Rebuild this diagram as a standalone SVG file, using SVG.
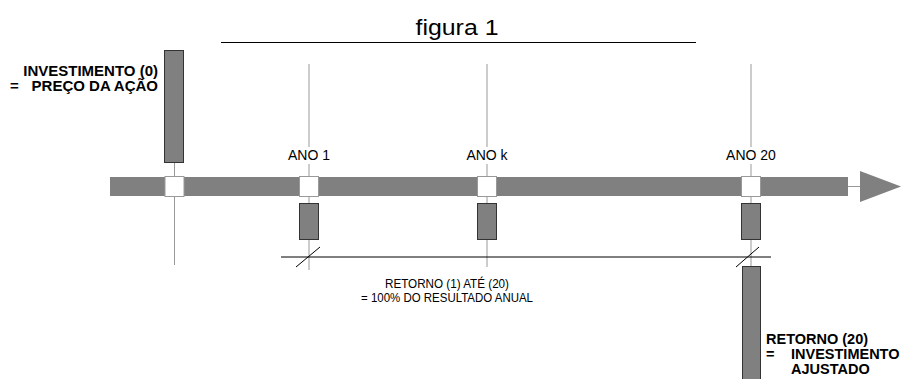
<svg xmlns="http://www.w3.org/2000/svg" width="906" height="379" viewBox="0 0 906 379">
<style>
.t{font-family:"Liberation Sans",Arial,sans-serif;fill:#000}
.b{font-weight:bold}
.bar{fill:#808080;stroke:#333;stroke-width:1}
.sq{fill:#fff;stroke:#999;stroke-width:1}
.vl{stroke:#999;stroke-width:1;fill:none}
.bl{stroke:#000;stroke-width:1;fill:none}
</style>
<rect width="906" height="379" fill="#fff"/>
<g id="title">
<text class="t" x="457" y="35" font-size="22" text-anchor="middle" textLength="83" lengthAdjust="spacingAndGlyphs">figura 1</text>
<line class="bl" x1="221" y1="42.5" x2="696" y2="42.5"/>
</g>
<g id="axis">
<rect x="110" y="177" width="738" height="19" fill="#808080"/>
<line class="vl" x1="848" y1="186.5" x2="860" y2="186.5"/>
<polygon points="860,171 901,186.5 860,202" fill="#808080"/>
</g>
<g id="connectors">
<line class="vl" x1="174.5" y1="162" x2="174.5" y2="265"/>
<line class="vl" x1="309" y1="64" x2="309" y2="147"/>
<line class="vl" x1="309" y1="164" x2="309" y2="270"/>
<line class="vl" x1="487" y1="64" x2="487" y2="147"/>
<line class="vl" x1="487" y1="164" x2="487" y2="267"/>
<line class="vl" x1="751" y1="64" x2="751" y2="147"/>
<line class="vl" x1="751" y1="164" x2="751" y2="266"/>
<line class="bl" x1="281" y1="257" x2="771" y2="257"/>
<line class="bl" x1="296" y1="267" x2="320" y2="247"/>
<line class="bl" x1="736" y1="267" x2="759" y2="247"/>
</g>
<g id="investimento">
<rect class="bar" x="164.5" y="50.5" width="19" height="112"/>
<rect class="sq" x="165" y="176.5" width="19" height="20"/>
<text class="t b" x="158" y="75.5" font-size="15" text-anchor="end">INVESTIMENTO (0)</text>
<text class="t b" x="10" y="91" font-size="15">=</text>
<text class="t b" x="158" y="91" font-size="15" text-anchor="end">PREÇO DA AÇÃO</text>
</g>
<g id="ano1">
<text class="t" x="309" y="160" font-size="14" text-anchor="middle">ANO 1</text>
<rect class="sq" x="299.5" y="176.5" width="19" height="20"/>
<rect class="bar" x="299.5" y="203.5" width="19" height="36"/>
</g>
<g id="anok">
<text class="t" x="487" y="160" font-size="14" text-anchor="middle">ANO k</text>
<rect class="sq" x="477.5" y="176.5" width="19" height="20"/>
<rect class="bar" x="477.5" y="203.5" width="19" height="36"/>
</g>
<g id="ano20">
<text class="t" x="751" y="160" font-size="14" text-anchor="middle">ANO 20</text>
<rect class="sq" x="741.5" y="176.5" width="19" height="20"/>
<rect class="bar" x="741.5" y="203.5" width="19" height="36"/>
</g>
<g id="retorno">
<text class="t" x="447" y="288" font-size="13" text-anchor="middle" textLength="124" lengthAdjust="spacingAndGlyphs">RETORNO (1) ATÉ (20)</text>
<text class="t" x="447" y="302" font-size="13" text-anchor="middle" textLength="172" lengthAdjust="spacingAndGlyphs">= 100% DO RESULTADO ANUAL</text>
</g>
<g id="retorno20">
<rect class="bar" x="742.5" y="266.5" width="18" height="116"/>
<text class="t b" x="766" y="344" font-size="14.5">RETORNO (20)</text>
<text class="t b" x="766" y="359" font-size="14.5">=</text>
<text class="t b" x="791" y="359" font-size="14.5">INVESTIMENTO</text>
<text class="t b" x="791" y="374" font-size="14.5">AJUSTADO</text>
</g>
</svg>
